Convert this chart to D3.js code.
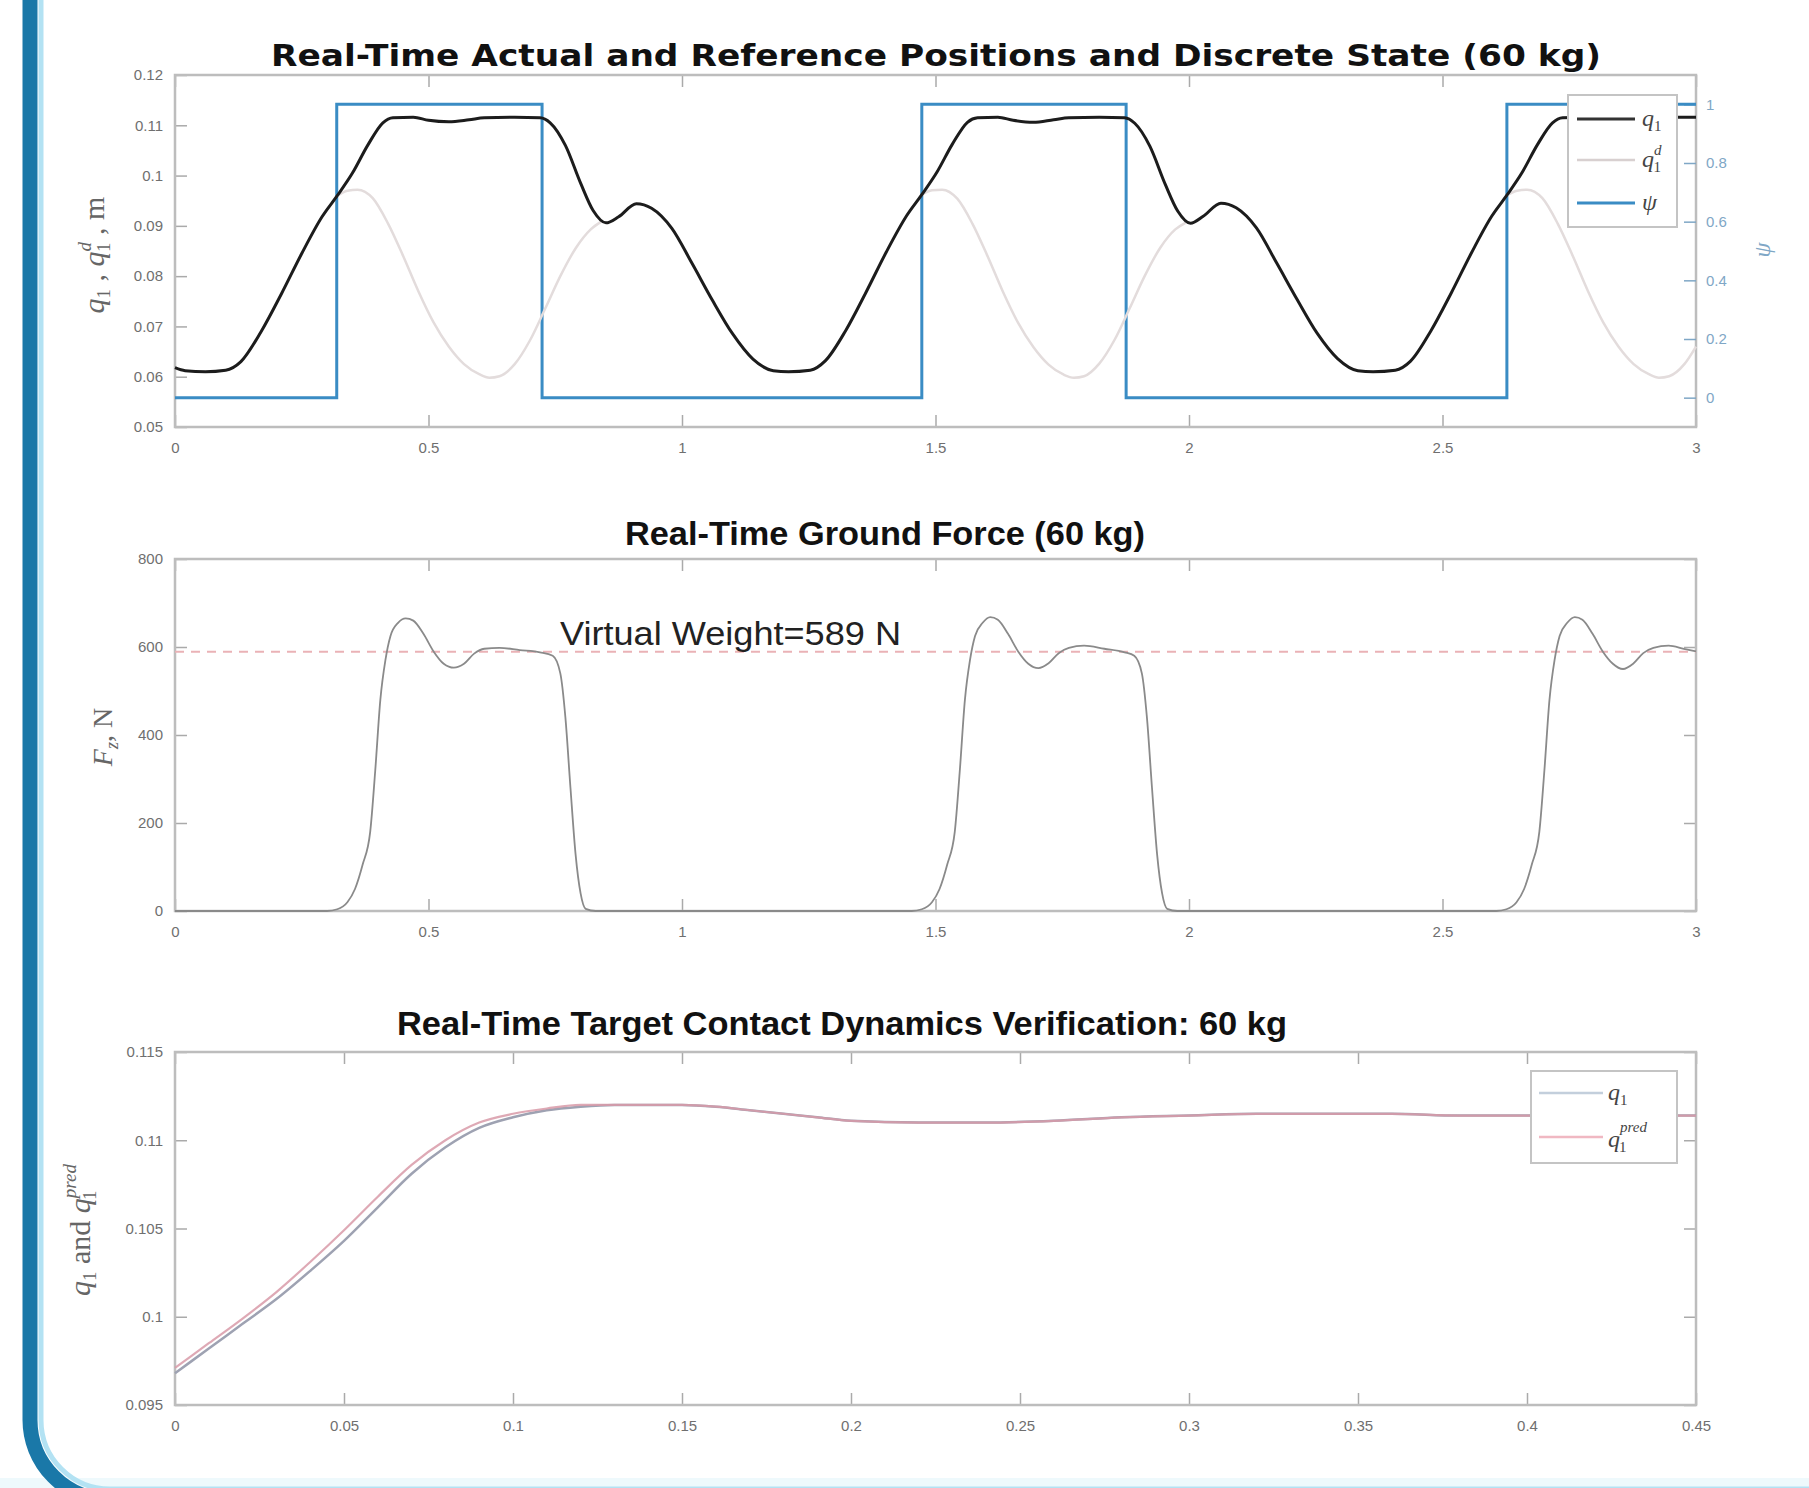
<!DOCTYPE html>
<html><head><meta charset="utf-8">
<script src="https://cdn.jsdelivr.net/npm/d3@7"></script>
<style>body{margin:0;background:#fff}svg{display:block}</style>
</head><body>
<svg id="c" width="1809" height="1488"></svg>
<script>
// ---------------- DATA ----------------
// Panel 1: actual position q1 (m)
const posTime = [0,0.02,0.06,0.10,0.13,0.17,0.21,0.25,0.29,
  0.32,0.35,0.38,0.41,0.43,0.47,0.50,0.54,0.58,0.61,0.67,0.72,
  0.74,0.77,0.80,0.825,0.85,0.875,0.91,0.94,0.98,1.02,1.06,1.10,1.14,1.18,1.21,
  1.253,1.283,1.323,1.363,1.403,1.443,
  1.473,1.503,1.533,1.563,1.583,1.623,1.653,1.693,1.733,1.763,1.823,1.873,
  1.893,1.923,1.953,1.978,2.003,2.028,2.063,2.093,2.133,2.173,2.213,2.253,2.293,2.333,2.363,
  2.407,2.437,2.477,2.517,2.557,2.597,
  2.627,2.657,2.687,2.717,2.737,2.777,2.807,2.847,2.887,2.917,2.96,3.0];
const q1Actual = [0.0618,0.0612,0.0610,0.0613,0.0630,0.0690,0.0765,0.0845,0.0918,
  0.0960,0.1005,0.1060,0.1105,0.1115,0.1116,0.1110,0.1107,0.1111,0.1115,0.1116,0.1115,
  0.1105,0.1060,0.0985,0.0930,0.0906,0.0918,0.0944,0.0935,0.0895,0.0825,0.0752,0.0685,0.0635,0.0612,0.0610,
  0.0613,0.0632,0.0692,0.0768,0.0848,0.0920,
  0.0962,0.1007,0.1062,0.1106,0.1115,0.1116,0.1110,0.1106,0.1111,0.1115,0.1116,0.1115,
  0.1104,0.1058,0.0983,0.0929,0.0905,0.0919,0.0945,0.0936,0.0896,0.0826,0.0754,0.0686,0.0636,0.0612,0.0610,
  0.0613,0.0631,0.0691,0.0766,0.0846,0.0919,
  0.0961,0.1006,0.1061,0.1105,0.1115,0.1116,0.1110,0.1107,0.1111,0.1115,0.1116,0.1116];
// Panel 1: reference position q1^d where it departs from q1 (stance phases)
const refTime = [0.32,0.34,0.36,0.39,0.42,0.45,0.48,0.51,0.54,0.57,0.60,0.62,0.64,0.67,0.70,0.73,0.76,0.79,0.82,0.84,null,
  1.473,1.493,1.513,1.543,1.573,1.603,1.633,1.663,1.693,1.723,1.753,1.773,1.793,1.823,1.853,1.883,1.913,1.943,1.973,1.993,null,
  2.627,2.647,2.667,2.697,2.727,2.757,2.787,2.817,2.847,2.877,2.907,2.927,2.947,2.977,3.0];
const q1Reference = [0.0960,0.0970,0.0972,0.0955,0.0905,0.0840,0.0770,0.0708,0.0660,0.0625,0.0605,0.0598,0.0601,0.0625,0.0672,0.0735,0.0800,0.0855,0.0893,0.0908,null,
  0.0962,0.0971,0.0972,0.0954,0.0904,0.0839,0.0769,0.0707,0.0659,0.0624,0.0604,0.0598,0.0601,0.0626,0.0673,0.0736,0.0801,0.0856,0.0893,0.0906,null,
  0.0961,0.0970,0.0972,0.0955,0.0905,0.0840,0.0770,0.0708,0.0660,0.0625,0.0605,0.0598,0.0601,0.0625,0.0660];
// Panel 1: discrete state psi (switch times / state after switch)
const psiTime = [0, 0.319, 0.724, 1.473, 1.876, 2.627, 3.0];
const psiState = [0, 1, 0, 1, 0, 1, 1];

// Panel 2: ground force (N)
const forceTime = [0,0.300,0.320,0.340,0.355,0.370,0.385,0.395,0.405,0.415,0.425,0.440,0.455,0.470,0.490,0.510,0.530,0.550,0.570,0.590,0.610,0.640,0.680,0.720,0.745,0.760,0.770,0.780,0.790,0.800,0.810,0.830,
  1.453,1.473,1.493,1.508,1.523,1.538,1.548,1.558,1.568,1.578,1.593,1.608,1.623,1.643,1.663,1.683,1.703,1.723,1.743,1.763,1.793,1.833,1.873,1.892,1.907,1.917,1.927,1.937,1.947,1.957,1.977,
  2.606,2.626,2.646,2.661,2.676,2.691,2.701,2.711,2.721,2.731,2.746,2.761,2.776,2.796,2.816,2.836,2.856,2.876,2.896,2.916,2.946,2.976,3.0];
const forceValue = [0,0,4,20,50,105,180,320,480,570,625,655,665,660,630,590,562,553,562,585,596,598,593,588,580,540,440,280,130,40,5,0,
  0,4,20,50,105,180,320,480,570,625,655,668,662,630,590,562,552,563,586,598,603,596,588,580,540,440,280,130,40,5,0,
  0,4,20,50,105,180,320,480,570,625,655,668,662,630,590,562,550,562,586,598,603,596,590];
const virtualWeight = 589;

// Panel 3: contact dynamics verification
const verTime = [0,0.01,0.02,0.03,0.04,0.05,0.06,0.07,0.08,0.09,0.10,0.11,0.12,0.13,0.14,0.15,0.16,0.17,0.18,0.19,0.20,0.22,0.24,0.26,0.28,0.30,0.32,0.34,0.36,0.38,0.40,0.42,0.45];
const verQ1 = [0.0968,0.0982,0.0996,0.1010,0.1026,0.1043,0.1062,0.1081,0.1096,0.1107,0.1113,0.1117,0.1119,0.1120,0.1120,0.1120,0.1119,0.1117,0.1115,0.1113,0.1111,0.1110,0.1110,0.1111,0.1113,0.1114,0.1115,0.1115,0.1115,0.1114,0.1114,0.1114,0.1114];
const verPred = [0.0971,0.0985,0.0999,0.1014,0.1031,0.1049,0.1068,0.1086,0.1100,0.1110,0.1115,0.1118,0.1120,0.1120,0.1120,0.1120,0.1119,0.1117,0.1115,0.1113,0.1111,0.1110,0.1110,0.1111,0.1113,0.1114,0.1115,0.1115,0.1115,0.1114,0.1114,0.1114,0.1114];

// Ticks
const xTicks = [0,0.5,1,1.5,2,2.5,3];
const xTickLabels = ["0","0.5","1","1.5","2","2.5","3"];
const posTicks = [0.05,0.06,0.07,0.08,0.09,0.10,0.11,0.12];
const posTickLabels = ["0.05","0.06","0.07","0.08","0.09","0.1","0.11","0.12"];
const psiTicks = [0,0.2,0.4,0.6,0.8,1];
const psiTickLabels = ["0","0.2","0.4","0.6","0.8","1"];
const forceTicks = [0,200,400,600,800];
const forceTickLabels = ["0","200","400","600","800"];
const verXTicks = [0,0.05,0.1,0.15,0.2,0.25,0.3,0.35,0.4,0.45];
const verXTickLabels = ["0","0.05","0.1","0.15","0.2","0.25","0.3","0.35","0.4","0.45"];
const verYTicks = [0.095,0.1,0.105,0.11,0.115];
const verYTickLabels = ["0.095","0.1","0.105","0.11","0.115"];

// ---------------- DRAWING ----------------
const svg = d3.select("#c");
const SANS = '"Liberation Sans", Arial, Helvetica, sans-serif';
const SERIF = '"Liberation Serif", "DejaVu Serif", "Times New Roman", serif';
const L = 175, R = 1696;
const TICK = 12;
const boxColor = "#bdbdbd";
const labelColor = "#6f6f6f";

// left decorative frame
svg.append("rect").attr("x",0).attr("y",1478).attr("width",1809).attr("height",10).attr("fill","#eef9fc");
svg.append("path").attr("d","M30,0 V1420 A80,80 0 0 0 110,1500 H1809")
  .attr("fill","none").attr("stroke","#1a78a8").attr("stroke-width",15);
svg.append("path").attr("d","M41,0 V1420 A69,69 0 0 0 110,1489 H1809")
  .attr("fill","none").attr("stroke","#b3e2f3").attr("stroke-width",5);

function styleAxis(g, color){
  g.select(".domain").remove();
  g.selectAll(".tick line").attr("stroke", color || "#aaaaaa").attr("stroke-width",1.5);
  g.selectAll(".tick text").attr("fill", color ? color : labelColor)
    .style("font-family", SANS).style("font-size","15px");
}
function frame(x, y, xt, xtl, yt, ytl, mirrorY){
  const [y0,y1] = y.range();
  const g = svg.append("g");
  g.append("g").attr("transform",`translate(0,${y0})`)
    .call(d3.axisBottom(x).tickValues(xt).tickFormat((d,i)=>xtl[i]).tickSize(-TICK).tickPadding(15))
    .call(a=>styleAxis(a));
  g.append("g").attr("transform",`translate(0,${y1})`)
    .call(d3.axisTop(x).tickValues(xt).tickFormat("").tickSize(-TICK))
    .call(a=>styleAxis(a));
  g.append("g").attr("transform",`translate(${L},0)`)
    .call(d3.axisLeft(y).tickValues(yt).tickFormat((d,i)=>ytl[i]).tickSize(-TICK).tickPadding(12))
    .call(a=>styleAxis(a));
  if (mirrorY) {
    g.append("g").attr("transform",`translate(${R},0)`)
      .call(d3.axisRight(y).tickValues(yt).tickFormat("").tickSize(-TICK))
      .call(a=>styleAxis(a));
  }
  g.append("rect").attr("x",L).attr("y",y1).attr("width",R-L).attr("height",y0-y1)
    .attr("fill","none").attr("stroke",boxColor).attr("stroke-width",2.5);
}
function title(txt, cx, base, len, family, size){
  svg.append("text").attr("x",cx).attr("y",base).attr("text-anchor","middle")
    .attr("textLength",len).attr("lengthAdjust","spacingAndGlyphs")
    .style("font-family",family).style("font-size",size+"px").style("font-weight","bold")
    .attr("fill","#111").text(txt);
}

// ===== Panel 1 =====
const x1 = d3.scaleLinear().domain([0,3]).range([L,R]);
const y1 = d3.scaleLinear().domain([0.05,0.12]).range([427,75]);
const y1r = d3.scaleLinear().domain([-0.1,1.1]).range([427,75]);
frame(x1,y1,xTicks,xTickLabels,posTicks,posTickLabels,false);
const psiColor = "#3a8cc4";
svg.append("g").attr("transform",`translate(${R},0)`)
  .call(d3.axisRight(y1r).tickValues(psiTicks).tickFormat((d,i)=>psiTickLabels[i]).tickSize(-TICK).tickPadding(10))
  .call(a=>styleAxis(a,"#7fa7c6"));

const psiData = psiTime.map((t,i)=>({t, v:psiState[i]}));
svg.append("path").datum(psiData)
  .attr("d", d3.line().x(d=>x1(d.t)).y(d=>y1r(d.v)).curve(d3.curveStepAfter))
  .attr("fill","none").attr("stroke",psiColor).attr("stroke-width",3);

const refData = refTime.map((t,i)=>({t, v:q1Reference[i]}));
svg.append("path").datum(refData)
  .attr("d", d3.line().defined(d=>d.t!=null && d.v!=null).x(d=>x1(d.t)).y(d=>y1(d.v)).curve(d3.curveMonotoneX))
  .attr("fill","none").attr("stroke","#e3dcdc").attr("stroke-width",2.5);

const posData = posTime.map((t,i)=>({t, v:q1Actual[i]}));
svg.append("path").datum(posData)
  .attr("d", d3.line().x(d=>x1(d.t)).y(d=>y1(d.v)).curve(d3.curveMonotoneX))
  .attr("fill","none").attr("stroke","#1c1c1c").attr("stroke-width",3);

title("Real-Time Actual and Reference Positions and Discrete State (60 kg)", 936, 66, 1330, '"DejaVu Sans", Verdana, sans-serif', 30);

// left y label panel 1
{
  const t = svg.append("text").attr("transform","translate(104,255) rotate(-90)")
    .attr("text-anchor","middle").style("font-family",SERIF).style("font-size","30px").attr("fill","#666");
  t.append("tspan").style("font-style","italic").text("q");
  t.append("tspan").attr("dy",6).style("font-size","19px").text("1");
  t.append("tspan").attr("dy",-6).text(" , ");
  t.append("tspan").style("font-style","italic").text("q");
  t.append("tspan").attr("dy",-13).style("font-size","19px").style("font-style","italic").text("d");
  t.append("tspan").attr("dy",19).attr("dx",-10).style("font-size","19px").text("1");
  t.append("tspan").attr("dy",-6).text(" , m");
}
// right y label
svg.append("text").attr("transform","translate(1770,250) rotate(-90)").attr("text-anchor","middle")
  .style("font-family",SERIF).style("font-style","italic").style("font-size","24px").attr("fill","#7fa7c6").text("ψ");

// legend panel 1
{
  const g = svg.append("g");
  g.append("rect").attr("x",1568).attr("y",95).attr("width",109).attr("height",132)
    .attr("fill","#fff").attr("stroke","#c4c4c4").attr("stroke-width",2);
  const items = [
    {y:119, color:"#333", w:3, lab:"q", sub:"1", sup:null},
    {y:160, color:"#d8d0d0", w:2.5, lab:"q", sub:"1", sup:"d"},
    {y:203, color:psiColor, w:3, lab:"ψ", sub:null, sup:null}
  ];
  items.forEach(it=>{
    g.append("line").attr("x1",1577).attr("x2",1635).attr("y1",it.y).attr("y2",it.y)
      .attr("stroke",it.color).attr("stroke-width",it.w);
    const t = g.append("text").attr("x",1642).attr("y",it.y+7).style("font-family",SERIF)
      .style("font-size","24px").attr("fill","#444");
    t.append("tspan").style("font-style","italic").text(it.lab);
    if (it.sup) {
      t.append("tspan").attr("dy",-12).style("font-size","15px").style("font-style","italic").text(it.sup);
      t.append("tspan").attr("dy",17).attr("dx",-8).style("font-size","15px").text(it.sub);
    } else if (it.sub) {
      t.append("tspan").attr("dy",5).style("font-size","15px").text(it.sub);
    }
  });
}

// ===== Panel 2 =====
const x2 = d3.scaleLinear().domain([0,3]).range([L,R]);
const y2 = d3.scaleLinear().domain([0,800]).range([911,559]);
frame(x2,y2,xTicks,xTickLabels,forceTicks,forceTickLabels,true);
svg.append("line").attr("x1",L).attr("x2",R).attr("y1",y2(virtualWeight)).attr("y2",y2(virtualWeight))
  .attr("stroke","#eab2b6").attr("stroke-width",2).attr("stroke-dasharray","9,7");
const forceData = forceTime.map((t,i)=>({t, v:forceValue[i]}));
svg.append("path").datum(forceData)
  .attr("d", d3.line().x(d=>x2(d.t)).y(d=>y2(d.v)).curve(d3.curveMonotoneX))
  .attr("fill","none").attr("stroke","#8a8a8a").attr("stroke-width",1.8);
svg.append("text").attr("x",560).attr("y",645).attr("textLength",341).attr("lengthAdjust","spacingAndGlyphs")
  .style("font-family",SANS).style("font-size","34px").attr("fill","#222").text("Virtual Weight=" + virtualWeight + " N");
title("Real-Time Ground Force (60 kg)", 885, 545, 520, SANS, 34);
{
  const t = svg.append("text").attr("transform","translate(112,737) rotate(-90)")
    .attr("text-anchor","middle").style("font-family",SERIF).style("font-size","28px").attr("fill","#666");
  t.append("tspan").style("font-style","italic").text("F");
  t.append("tspan").attr("dy",6).style("font-size","18px").style("font-style","italic").text("z");
  t.append("tspan").attr("dy",-6).text(", N");
}

// ===== Panel 3 =====
const x3 = d3.scaleLinear().domain([0,0.45]).range([L,R]);
const y3 = d3.scaleLinear().domain([0.095,0.115]).range([1405,1052]);
frame(x3,y3,verXTicks,verXTickLabels,verYTicks,verYTickLabels,true);
const verColQ1 = "#9ea2b2", verColPred = "#d89aa8";
const vq1 = verTime.map((t,i)=>({t, v:verQ1[i]}));
const vpr = verTime.map((t,i)=>({t, v:verPred[i]}));
svg.append("path").datum(vq1)
  .attr("d", d3.line().x(d=>x3(d.t)).y(d=>y3(d.v)).curve(d3.curveMonotoneX))
  .attr("fill","none").attr("stroke",verColQ1).attr("stroke-width",2.5);
svg.append("path").datum(vpr)
  .attr("d", d3.line().x(d=>x3(d.t)).y(d=>y3(d.v)).curve(d3.curveMonotoneX))
  .attr("fill","none").attr("stroke",verColPred).attr("stroke-width",2.2).attr("opacity",0.85);
title("Real-Time Target Contact Dynamics Verification: 60 kg", 842, 1035, 890, SANS, 34);
{
  const t = svg.append("text").attr("transform","translate(90,1230) rotate(-90)")
    .attr("text-anchor","middle").style("font-family",SERIF).style("font-size","30px").attr("fill","#666");
  t.append("tspan").style("font-style","italic").text("q");
  t.append("tspan").attr("dy",6).style("font-size","19px").text("1");
  t.append("tspan").attr("dy",-6).text(" and ");
  t.append("tspan").style("font-style","italic").text("q");
  t.append("tspan").attr("dy",-14).style("font-size","19px").style("font-style","italic").text("pred");
  t.append("tspan").attr("dy",20).attr("dx",-36).style("font-size","19px").text("1");
}
// legend panel 3
{
  const g = svg.append("g");
  g.append("rect").attr("x",1531).attr("y",1071).attr("width",146).attr("height",92)
    .attr("fill","#fff").attr("stroke","#c4c4c4").attr("stroke-width",2);
  g.append("line").attr("x1",1539).attr("x2",1603).attr("y1",1093).attr("y2",1093)
    .attr("stroke","#c3cfdc").attr("stroke-width",2.5);
  g.append("line").attr("x1",1539).attr("x2",1603).attr("y1",1137).attr("y2",1137)
    .attr("stroke","#f0b8c2").attr("stroke-width",2.5);
  const t1 = g.append("text").attr("x",1608).attr("y",1100).style("font-family",SERIF).style("font-size","24px").attr("fill","#444");
  t1.append("tspan").style("font-style","italic").text("q");
  t1.append("tspan").attr("dy",5).style("font-size","15px").text("1");
  const t2 = g.append("text").attr("x",1608).attr("y",1147).style("font-family",SERIF).style("font-size","24px").attr("fill","#444");
  t2.append("tspan").style("font-style","italic").text("q");
  t2.append("tspan").attr("dy",-15).style("font-size","15px").style("font-style","italic").text("pred");
  t2.append("tspan").attr("dy",20).attr("dx",-28).style("font-size","15px").text("1");
}
</script>
</body></html>
